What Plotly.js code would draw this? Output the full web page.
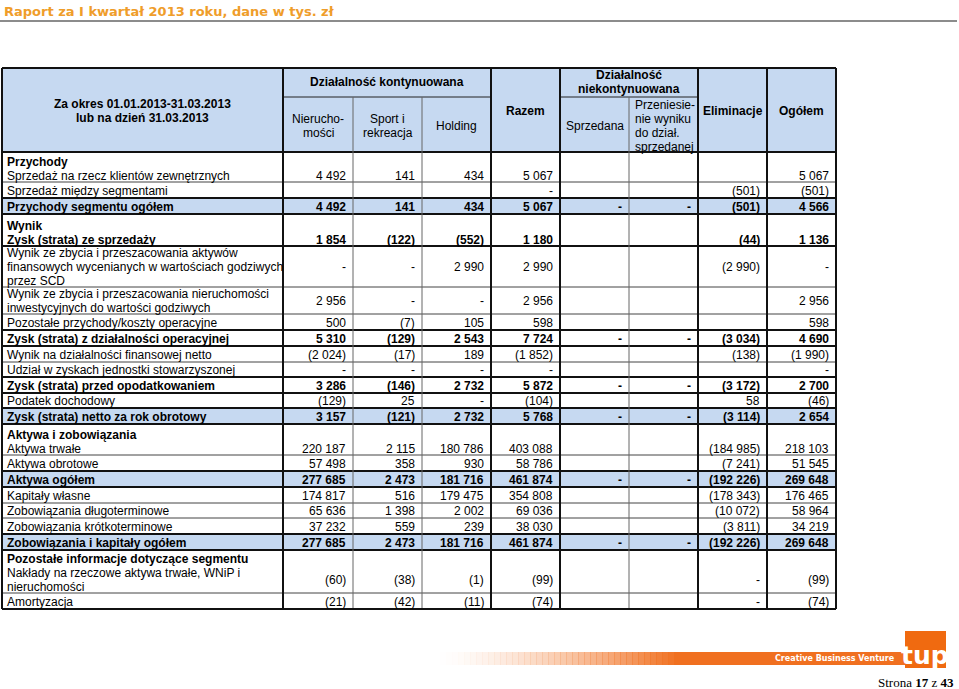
<!DOCTYPE html>
<html>
<head>
<meta charset="utf-8">
<script src="https://cdn.plot.ly/plotly-3.0.1.min.js"></script>
<style>
body { margin: 0; background: #fff; }
#graphDiv { width: 959px; height: 689px; }
</style>
</head>
<body>
<div id="graphDiv"></div>
<script>
var pageTitle = 'Raport za I kwartał 2013 roku, dane w tys. zł';
var periodLabel = ['Za okres 01.01.2013-31.03.2013', 'lub na dzień 31.03.2013'];
var groupLabels = ['Działalność kontynuowana', 'Działalność|niekontynuowana'];
var columnLabels = ['Nierucho-|mości', 'Sport i|rekreacja', 'Holding', 'Razem',
  'Sprzedana', 'Przeniesie-|nie wyniku|do dział.|sprzedanej', 'Eliminacje', 'Ogółem'];

// row headings (bold line above the row text) and row texts
var headings = ['Przychody', '', '', 'Wynik', '', '', '', '', '', '', '', '', '',
  'Aktywa i zobowiązania', '', '', '', '', '', '', 'Pozostałe informacje dotyczące segmentu', ''];
var rowLabels = [
  ['Sprzedaż na rzecz klientów zewnętrznych'],
  ['Sprzedaż między segmentami'],
  ['Przychody segmentu ogółem'],
  ['Zysk (strata) ze sprzedaży'],
  ['Wynik ze zbycia i przeszacowania aktywów', 'finansowych wycenianych w wartościach godziwych', 'przez SCD'],
  ['Wynik ze zbycia i przeszacowania nieruchomości', 'inwestycyjnych do wartości godziwych'],
  ['Pozostałe przychody/koszty operacyjne'],
  ['Zysk (strata) z działalności operacyjnej'],
  ['Wynik na działalności finansowej netto'],
  ['Udział w zyskach jednostki stowarzyszonej'],
  ['Zysk (strata) przed opodatkowaniem'],
  ['Podatek dochodowy'],
  ['Zysk (strata) netto za rok obrotowy'],
  ['Aktywa trwałe'],
  ['Aktywa obrotowe'],
  ['Aktywa ogółem'],
  ['Kapitały własne'],
  ['Zobowiązania długoterminowe'],
  ['Zobowiązania krótkoterminowe'],
  ['Zobowiązania i kapitały ogółem'],
  ['Nakłady na rzeczowe aktywa trwałe, WNiP i', 'nieruchomości'],
  ['Amortyzacja']
];

var nieruchomosci = ['4 492', '', '4 492', '1 854', '-', '2 956', '500', '5 310', '(2 024)', '-', '3 286', '(129)', '3 157',
  '220 187', '57 498', '277 685', '174 817', '65 636', '37 232', '277 685', '(60)', '(21)'];
var sport = ['141', '', '141', '(122)', '-', '-', '(7)', '(129)', '(17)', '-', '(146)', '25', '(121)',
  '2 115', '358', '2 473', '516', '1 398', '559', '2 473', '(38)', '(42)'];
var holding = ['434', '', '434', '(552)', '2 990', '-', '105', '2 543', '189', '-', '2 732', '-', '2 732',
  '180 786', '930', '181 716', '179 475', '2 002', '239', '181 716', '(1)', '(11)'];
var razem = ['5 067', '-', '5 067', '1 180', '2 990', '2 956', '598', '7 724', '(1 852)', '-', '5 872', '(104)', '5 768',
  '403 088', '58 786', '461 874', '354 808', '69 036', '38 030', '461 874', '(99)', '(74)'];
var sprzedana = ['', '', '-', '', '', '', '', '-', '', '', '-', '', '-',
  '', '', '-', '', '', '', '-', '', ''];
var przeniesienie = ['', '', '-', '', '', '', '', '-', '', '', '-', '', '-',
  '', '', '-', '', '', '', '-', '', ''];
var eliminacje = ['', '(501)', '(501)', '(44)', '(2 990)', '', '', '(3 034)', '(138)', '', '(3 172)', '58', '(3 114)',
  '(184 985)', '(7 241)', '(192 226)', '(178 343)', '(10 072)', '(3 811)', '(192 226)', '-', '-'];
var ogolem = ['5 067', '(501)', '4 566', '1 136', '-', '2 956', '598', '4 690', '(1 990)', '-', '2 700', '(46)', '2 654',
  '218 103', '51 545', '269 648', '176 465', '58 964', '34 219', '269 648', '(99)', '(74)'];
var valueColumns = [nieruchomosci, sport, holding, razem, sprzedana, przeniesienie, eliminacje, ogolem];

var footerText = 'Creative Business Venture';
var pageNo = 17, pageCount = 43;

// page grid in pixels
var colEdges = [2, 283, 353, 422, 491, 560, 629, 698, 767, 836];
var thinCols = [2, 3, 6];           // light inner borders (index into colEdges)
var headTop = 68, headMid = 97, headBottom = 152;
var rowEdges = [152, 182, 198, 214, 246, 287, 314, 330, 346, 362, 377, 393, 408, 424,
  455, 471, 487, 503, 518, 534, 550, 593, 609];
var boldRows = [2, 3, 7, 10, 12, 15, 19];
var blueRows = [2, 12, 15, 19];

var BLUE = '#C6D9F1';
var FONT = 'Liberation Sans, Arial, sans-serif';
var LINE = 14;

var shapes = [];
var annotations = [];

function rect(x0, y0, x1, y1, fill, layer) {
  shapes.push({type: 'rect', xref: 'x', yref: 'y', x0: x0, x1: x1, y0: y0, y1: y1,
    fillcolor: fill, line: {width: 0}, layer: layer || 'below'});
}
function line(x0, y0, x1, y1, color, w) {
  shapes.push({type: 'line', xref: 'x', yref: 'y', x0: x0, x1: x1, y0: y0, y1: y1,
    line: {color: color, width: w}, layer: 'above'});
}
function txt(x, y, text, anchor, opts) {
  opts = opts || {};
  annotations.push({x: x, y: y, xref: 'x', yref: 'y', text: text, showarrow: false,
    xanchor: anchor, yanchor: 'middle', align: anchor,
    font: {family: opts.family || FONT, size: opts.size || 12, color: opts.color || '#000'}});
}
function b(s) { return '<b>' + s + '</b>'; }

// header + highlighted rows
rect(colEdges[0], headTop, colEdges[9], headBottom, BLUE);
blueRows.forEach(function (r) { rect(colEdges[0], rowEdges[r], colEdges[9], rowEdges[r + 1], BLUE); });

// header text
txt((colEdges[0] + colEdges[1]) / 2, 104, b(periodLabel[0]), 'center');
txt((colEdges[0] + colEdges[1]) / 2, 118, b(periodLabel[1]), 'center');
txt((colEdges[1] + colEdges[4]) / 2, 82, b(groupLabels[0]), 'center');
groupLabels[1].split('|').forEach(function (s, i) {
  txt((colEdges[5] + colEdges[7]) / 2, 75 + i * 14, b(s), 'center');
});
columnLabels.forEach(function (lab, c) {
  var parts = lab.split('|');
  var bold = (c === 3 || c === 6 || c === 7);
  var top = bold ? headTop : headMid;
  var mid = (top + headBottom) / 2 + 1;
  parts.forEach(function (s, i) {
    var y = mid + (i - (parts.length - 1) / 2) * 14;
    if (c === 5) {
      txt(colEdges[c + 1] + 4, y, s, 'left');
    } else {
      txt((colEdges[c + 1] + colEdges[c + 2]) / 2, y, bold ? b(s) : s, 'center');
    }
  });
});

// body rows
rowLabels.forEach(function (lines, r) {
  var bold = boldRows.indexOf(r) >= 0;
  var all = headings[r] ? [b(headings[r])] : [];
  lines.forEach(function (s) { all.push(bold ? b(s) : s); });
  var n = all.length;
  var ys = [];
  if (n === 1) ys = [(rowEdges[r] + rowEdges[r + 1]) / 2 + 0.5];
  else for (var i = 0; i < n; i++) ys.push(rowEdges[r + 1] - 6.5 - (n - 1 - i) * LINE);
  all.forEach(function (s, i) { txt(colEdges[0] + 3, ys[i], s, 'left'); });
  var vy = ys.slice(headings[r] ? 1 : 0);
  var yv = vy.reduce(function (a, v) { return a + v; }, 0) / vy.length;
  valueColumns.forEach(function (col, c) {
    if (col[r] !== '') txt(colEdges[c + 2] - 5, yv, bold ? b(col[r]) : col[r], 'right');
  });
});

// grid lines
var last = rowEdges[rowEdges.length - 1];
for (var r = 1; r < rowEdges.length - 1; r++) {
  var heavy = boldRows.indexOf(r) >= 0 || boldRows.indexOf(r - 1) >= 0;
  line(colEdges[0], rowEdges[r], colEdges[9], rowEdges[r], heavy ? '#111' : '#444', heavy ? 2 : 1);
}
line(colEdges[0], headBottom, colEdges[9], headBottom, '#111', 2);
line(colEdges[1], headMid, colEdges[4], headMid, '#222', 1);
line(colEdges[5], headMid, colEdges[7], headMid, '#222', 1);
colEdges.forEach(function (x, i) {
  if (thinCols.indexOf(i) >= 0) line(x, headMid, x, last, '#666', 1);
  else line(x, headTop, x, last, '#111', 2);
});
line(colEdges[0], headTop, colEdges[9], headTop, '#111', 2);
line(colEdges[0], last, colEdges[9], last, '#111', 2);

// page title + rule
txt(2, 11, b(pageTitle), 'left', {family: 'DejaVu Sans, Verdana, sans-serif', size: 13, color: '#EF9D2A'});
line(0, 21, 957, 21, '#666', 1.5);

// footer band with fade-in
var steps = 40;
for (var s = 0; s < steps; s++) {
  var x0 = 440 + s * 6;
  shapes.push({type: 'rect', xref: 'x', yref: 'y', x0: x0, x1: x0 + 6.5, y0: 652, y1: 665,
    fillcolor: '#F07020', opacity: Math.pow((s + 1) / steps, 1.5), line: {width: 0}, layer: 'below'});
}
rect(680, 652, 906, 665, '#F07020');
rect(905, 631, 946, 668, '#F06A10');
txt(897, 658.5, b(footerText), 'right', {family: 'DejaVu Sans, sans-serif', size: 8, color: '#fff'});
txt(925, 655, b('tup'), 'center', {family: 'DejaVu Sans, sans-serif', size: 25, color: '#fff'});
txt(956, 682, 'Strona <b>' + pageNo + '</b> z <b>' + pageCount + '</b>', 'right',
  {family: 'Liberation Serif, Times New Roman, serif', size: 13, color: '#000'});

var layout = {
  width: 959,
  height: 689,
  margin: {l: 0, r: 0, t: 0, b: 0},
  paper_bgcolor: '#fff',
  plot_bgcolor: '#fff',
  showlegend: false,
  xaxis: {range: [0, 959], visible: false, fixedrange: true},
  yaxis: {range: [689, 0], visible: false, fixedrange: true},
  shapes: shapes,
  annotations: annotations
};

Plotly.newPlot('graphDiv', [], layout, {staticPlot: true, displayModeBar: false});
</script>
</body>
</html>
